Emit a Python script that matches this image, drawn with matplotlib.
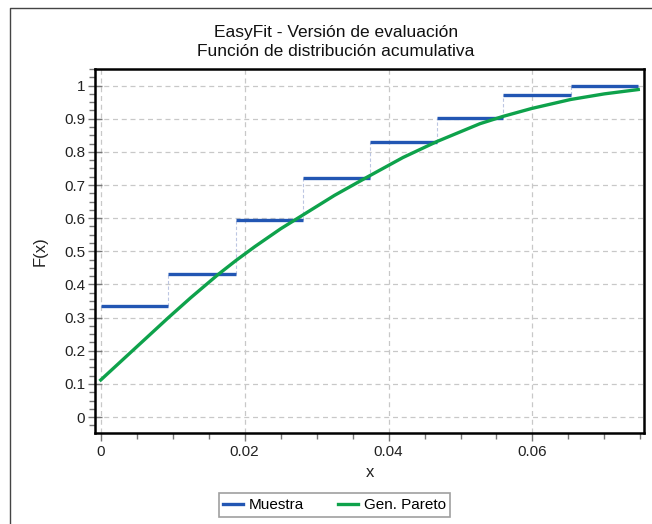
import numpy as np
import matplotlib
matplotlib.use('Agg')
import matplotlib.pyplot as plt
from matplotlib.lines import Line2D
from matplotlib.ticker import MultipleLocator

plt.rcParams['font.family'] = ['Liberation Sans', 'DejaVu Sans']

# Sample (empirical CDF) steps
step_left = [0.0, 0.0094, 0.0188, 0.0281, 0.0374, 0.0467, 0.0559, 0.0653]
step_right = [0.0094, 0.0188, 0.0281, 0.0374, 0.0467, 0.0559, 0.0653, 0.0746]
step_y = [0.335, 0.432, 0.594, 0.722, 0.831, 0.902, 0.971, 1.0]

# Gen. Pareto fitted CDF
curve_x = [0.0, 0.005, 0.0094, 0.0125, 0.0163, 0.0188, 0.0214, 0.025, 0.0279,
           0.0325, 0.0372, 0.042, 0.0467, 0.0527, 0.0559, 0.0599, 0.0653, 0.07, 0.0747]
curve_y = [0.112, 0.212, 0.300, 0.360, 0.430, 0.4725, 0.514, 0.568, 0.607,
           0.669, 0.726, 0.783, 0.831, 0.885, 0.907, 0.931, 0.958, 0.975, 0.988]

blue = '#2256b3'
green = '#0ea24b'

W, H = 652, 524
fig = plt.figure(figsize=(W / 100, H / 100), dpi=100)
ax = fig.add_axes([95 / W, 1 - 433 / H, (644 - 95) / W, (433 - 69) / H])

# connectors between steps
for i in range(len(step_y) - 1):
    ax.plot([step_right[i], step_right[i]], [step_y[i], step_y[i + 1]],
            color='#bcc6e2', lw=0.8, ls=(0, (3, 2)), zorder=2)
for xl, xr, y in zip(step_left, step_right, step_y):
    ax.plot([xl, xr], [y, y], color=blue, lw=2.4, solid_capstyle='butt', zorder=3)
ax.plot(curve_x, curve_y, color=green, lw=2.4, zorder=4)

ax.set_xlim(-0.0008, 0.0755)
ax.set_ylim(-0.048, 1.05)
ax.xaxis.set_minor_locator(MultipleLocator(0.005))
ax.yaxis.set_minor_locator(MultipleLocator(0.025))
ax.set_xticks([0, 0.02, 0.04, 0.06])
ax.set_xticklabels(['0', '0.02', '0.04', '0.06'])
yt = [round(v, 1) for v in np.arange(0, 1.01, 0.1)]
ax.set_yticks(yt)
ax.set_yticklabels(['0' if v == 0 else ('1' if v == 1 else f'{v:.1f}') for v in yt])

ax.grid(True, which='major', color='#c8c8c8', ls=(0, (4, 3)), lw=0.9)
ax.tick_params(which='major', direction='out', length=6, width=1, color='#777777',
               labelsize=11, labelcolor='#222222', pad=3)
ax.tick_params(which='minor', direction='out', length=4, width=1, color='#777777')
ax.tick_params(axis='y', which='major', direction='inout', length=10, pad=2)
for s in ax.spines.values():
    s.set_linewidth(1.8)
    s.set_color('black')

ax.set_xlabel('x', fontsize=12, color='#222222', labelpad=4)
ax.set_ylabel('F(x)', fontsize=12, color='#222222', labelpad=12)

fig.text(336 / W, 1 - 33 / H, 'EasyFit - Versión de evaluación', ha='center', va='center',
         fontsize=12.5, color='#111111')
fig.text(336 / W, 1 - 52 / H, 'Función de distribución acumulativa', ha='center', va='center',
         fontsize=12.5, color='#111111')

handles = [Line2D([], [], color=blue, lw=2.4), Line2D([], [], color=green, lw=2.4)]
leg = fig.legend(handles, ['Muestra', 'Gen. Pareto'], loc='center',
                 bbox_to_anchor=(334.5 / W, 1 - 505 / H), ncol=2, fontsize=11,
                 frameon=True, fancybox=False, handlelength=1.3, handletextpad=0.4,
                 columnspacing=2.2, borderpad=0.3)
leg.get_frame().set_edgecolor('#888888')
leg.get_frame().set_linewidth(1.2)

# outer panel frame
fig.add_artist(Line2D([10 / W, 10 / W, 1.0], [0.0, 1 - 8 / H, 1 - 8 / H],
                      transform=fig.transFigure, color='#444444', lw=1))

fig.savefig('out.png', dpi=100)
